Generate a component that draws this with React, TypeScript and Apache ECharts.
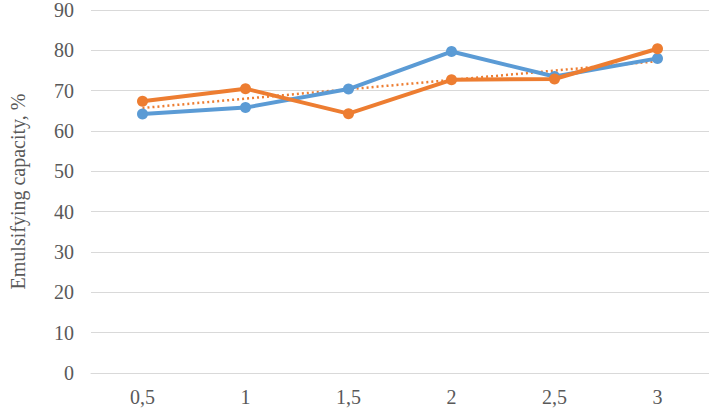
import React, { useEffect, useRef } from "react";
import * as echarts from "echarts";

const categories = ["0,5", "1", "1,5", "2", "2,5", "3"];
const blueValues = [64.2, 65.8, 70.4, 79.7, 73.5, 78.0];
const orangeValues = [67.4, 70.5, 64.3, 72.7, 72.9, 80.4];
// dotted trendline of the orange series, read at first and last category
const trendValues = [65.7, null, null, null, null, 77.3];
const yTicks = { min: 0, max: 90, interval: 10 };

const FONT = "'Liberation Serif', 'Times New Roman', serif";

export default function App() {
  const ref = useRef<HTMLDivElement>(null);
  useEffect(() => {
    if (!ref.current) return;
    const chart = echarts.init(ref.current, null, { renderer: "svg" });
    chart.setOption({
      animation: false,
      backgroundColor: "#ffffff",
      grid: { left: 76, right: 0, top: 7, bottom: 36 },
      xAxis: {
        type: "category",
        data: categories,
        boundaryGap: true,
        axisLine: { lineStyle: { color: "#D9D9D9", width: 1 } },
        axisTick: { show: false },
        axisLabel: { color: "#595959", fontFamily: FONT, fontSize: 20, margin: 14 },
      },
      yAxis: {
        type: "value",
        min: yTicks.min,
        max: yTicks.max,
        interval: yTicks.interval,
        name: "Emulsifying capacity, %",
        nameLocation: "middle",
        nameGap: 63,
        nameTextStyle: { color: "#595959", fontFamily: FONT, fontSize: 20 },
        axisLine: { show: false },
        axisTick: { show: false },
        axisLabel: { color: "#595959", fontFamily: FONT, fontSize: 20, margin: 17 },
        splitLine: { lineStyle: { color: "#D9D9D9", width: 1 } },
      },
      series: [
        {
          type: "line",
          data: trendValues,
          connectNulls: true,
          symbol: "none",
          lineStyle: { color: "#ED7D31", width: 2.5, type: [2, 3] },
          z: 1,
        },
        {
          type: "line",
          data: blueValues,
          symbol: "circle",
          symbolSize: 11,
          itemStyle: { color: "#5B9BD5" },
          lineStyle: { color: "#5B9BD5", width: 4 },
          z: 2,
        },
        {
          type: "line",
          data: orangeValues,
          symbol: "circle",
          symbolSize: 11,
          itemStyle: { color: "#ED7D31" },
          lineStyle: { color: "#ED7D31", width: 4 },
          z: 3,
        },
      ],
    });
    return () => chart.dispose();
  }, []);
  return <div ref={ref} style={{ width: 709, height: 409, position: "absolute", left: 0, top: 0 }} />;
}
